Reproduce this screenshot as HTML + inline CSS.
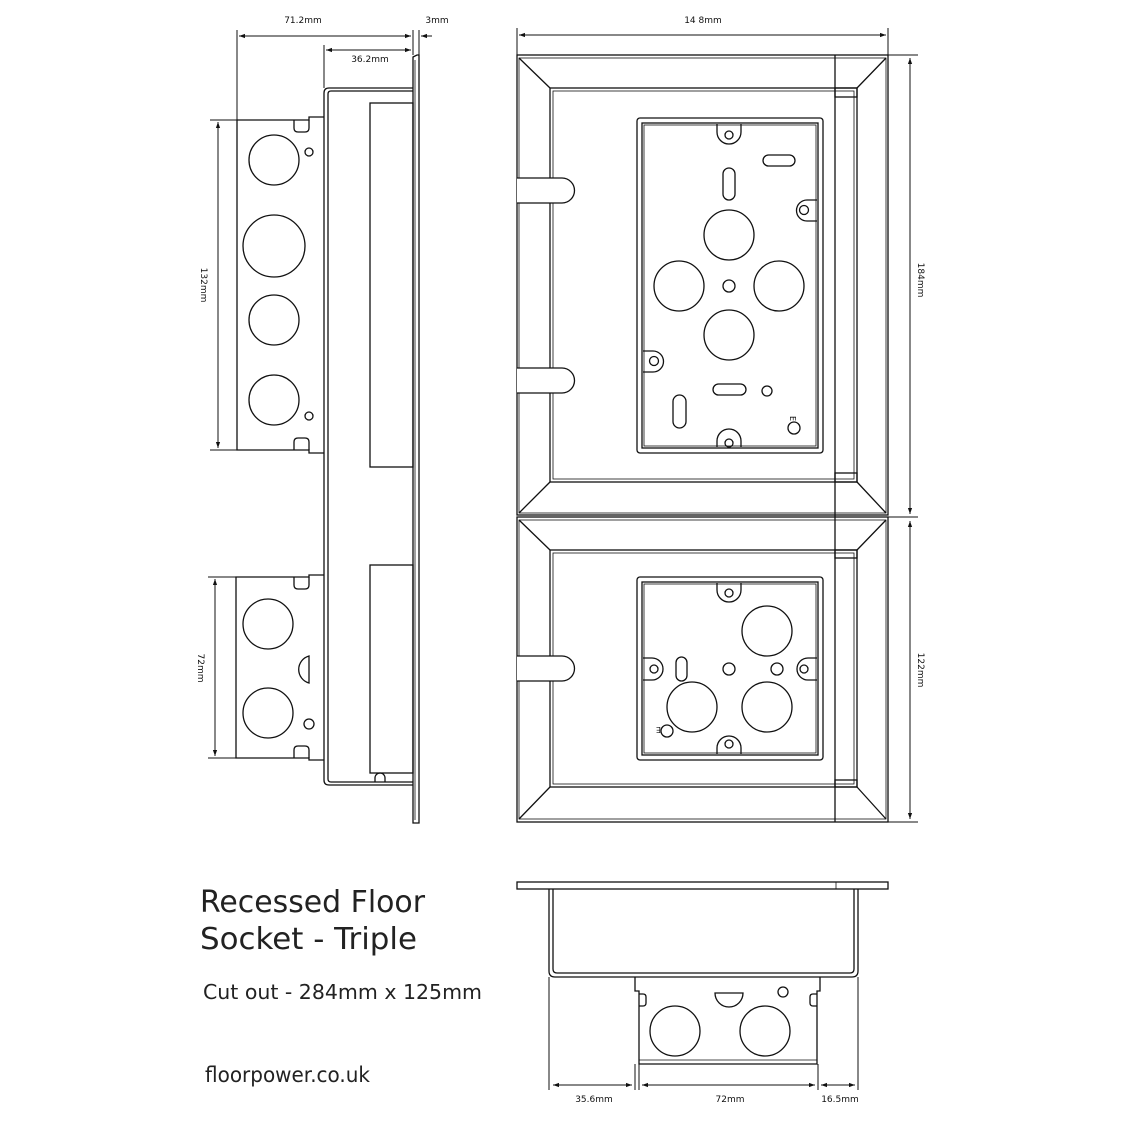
<!DOCTYPE html>
<html><head><meta charset="utf-8"><style>html,body{margin:0;padding:0;background:#fff}svg{display:block}</style></head>
<body>
<svg width="1132" height="1132" viewBox="0 0 1132 1132" xmlns="http://www.w3.org/2000/svg" font-family="'DejaVu Sans','Liberation Sans',sans-serif">
<defs>
<marker id="a" viewBox="0 0 10 10" refX="10" refY="5" markerWidth="8" markerHeight="6" orient="auto-start-reverse"><path d="M0,1.5 L10,5 L0,8.5z" fill="#111"/></marker>
</defs>
<g fill="none" stroke="#111" stroke-width="1.3">
<!-- ===== LEFT SIDE VIEW ===== -->
<!-- dims -->
<line x1="237" y1="30" x2="237" y2="120" stroke-width="1"/>
<line x1="324" y1="45" x2="324" y2="88" stroke-width="1"/>
<line x1="413" y1="30" x2="413" y2="55" stroke-width="1"/>
<line x1="419" y1="30" x2="419" y2="55" stroke-width="1"/>
<line x1="239" y1="36" x2="411" y2="36" stroke-width="1" marker-start="url(#a)" marker-end="url(#a)"/>
<line x1="326" y1="50" x2="411" y2="50" stroke-width="1" marker-start="url(#a)" marker-end="url(#a)"/>
<line x1="432" y1="36" x2="421" y2="36" stroke-width="1" marker-end="url(#a)"/>
<line x1="210" y1="120" x2="237" y2="120" stroke-width="1"/>
<line x1="210" y1="450" x2="237" y2="450" stroke-width="1"/>
<line x1="218" y1="122" x2="218" y2="448" stroke-width="1" marker-start="url(#a)" marker-end="url(#a)"/>
<line x1="208" y1="577" x2="236" y2="577" stroke-width="1"/>
<line x1="208" y1="758" x2="236" y2="758" stroke-width="1"/>
<line x1="215" y1="579" x2="215" y2="756" stroke-width="1" marker-start="url(#a)" marker-end="url(#a)"/>
<!-- flange -->
<path d="M413,57 L417,55 L419,55 L419,823 L413,823 Z"/>
<line x1="415" y1="60" x2="415" y2="820" stroke-width="0.8"/>
<!-- body -->
<path d="M413,88 L329,88 Q324,88 324,93 L324,780 Q324,785 329,785 L413,785"/>
<path d="M413,91 L331,91 Q328,91 328,94 L328,779 Q328,782 331,782 L413,782"/>
<rect x="370" y="103" width="43" height="364"/>
<rect x="370" y="565" width="43" height="208"/>
<path d="M375,782 L375,778 A5,5 0 0 1 385,778 L385,782"/>
<!-- upper bracket -->
<path d="M324,117 L309,117 L309,120 L237,120 L237,450 L309,450 L309,453 L324,453"/>
<path d="M294,120 L294,128 Q294,132 298,132 L305,132 Q309,132 309,128 L309,120"/>
<path d="M294,450 L294,442 Q294,438 298,438 L305,438 Q309,438 309,442 L309,450"/>
<circle cx="274" cy="160" r="25"/>
<circle cx="274" cy="246" r="31"/>
<circle cx="274" cy="320" r="25"/>
<circle cx="274" cy="400" r="25"/>
<circle cx="309" cy="152" r="4"/>
<circle cx="309" cy="416" r="4"/>
<!-- lower bracket -->
<path d="M324,575 L309,575 L309,577 L236,577 L236,758 L309,758 L309,760 L324,760"/>
<path d="M294,577 L294,585 Q294,589 298,589 L305,589 Q309,589 309,585 L309,577"/>
<path d="M294,758 L294,750 Q294,746 298,746 L305,746 Q309,746 309,750 L309,758"/>
<circle cx="268" cy="624" r="25"/>
<circle cx="268" cy="713" r="25"/>
<path d="M309,656 A14,14 0 0 0 309,683 Z"/>
<circle cx="309" cy="724" r="5"/>

<!-- ===== TOP VIEW ===== -->
<line x1="517" y1="28" x2="517" y2="55" stroke-width="1"/>
<line x1="888" y1="28" x2="888" y2="55" stroke-width="1"/>
<line x1="519" y1="35" x2="886" y2="35" stroke-width="1" marker-start="url(#a)" marker-end="url(#a)"/>
<line x1="888" y1="55" x2="918" y2="55" stroke-width="1"/>
<line x1="888" y1="517" x2="918" y2="517" stroke-width="1"/>
<line x1="888" y1="822" x2="918" y2="822" stroke-width="1"/>
<line x1="910" y1="58" x2="910" y2="514" stroke-width="1" marker-start="url(#a)" marker-end="url(#a)"/>
<line x1="910" y1="521" x2="910" y2="819" stroke-width="1" marker-start="url(#a)" marker-end="url(#a)"/>
<!-- top box -->
<rect x="517" y="55" width="371" height="460"/>
<rect x="519" y="58" width="367" height="455" stroke-width="0.8"/>
<rect x="550" y="88" width="307" height="394"/>
<rect x="553" y="91" width="301" height="388" stroke-width="0.8"/>
<line x1="519" y1="58" x2="550" y2="88"/><line x1="886" y1="58" x2="857" y2="88"/>
<line x1="519" y1="513" x2="550" y2="482"/><line x1="886" y1="513" x2="857" y2="482"/>
<line x1="835" y1="55" x2="835" y2="822"/>
<rect x="835" y="88" width="22" height="9"/><rect x="835" y="473" width="22" height="9"/>
<!-- notches -->
<path d="M517,178 L562,178 A12.5,12.5 0 0 1 562,203 L517,203" fill="#fff"/>
<path d="M517,368 L562,368 A12.5,12.5 0 0 1 562,393 L517,393" fill="#fff"/>
<!-- bottom box -->
<rect x="517" y="517" width="371" height="305"/>
<rect x="519" y="520" width="367" height="299" stroke-width="0.8"/>
<rect x="550" y="550" width="307" height="237"/>
<rect x="553" y="553" width="301" height="231" stroke-width="0.8"/>
<line x1="519" y1="520" x2="550" y2="550"/><line x1="886" y1="520" x2="857" y2="550"/>
<line x1="519" y1="819" x2="550" y2="787"/><line x1="886" y1="819" x2="857" y2="787"/>
<rect x="835" y="550" width="22" height="8"/><rect x="835" y="780" width="22" height="7"/>
<path d="M517,656 L562,656 A12.5,12.5 0 0 1 562,681 L517,681" fill="#fff"/>
<!-- top socket -->
<rect x="637" y="118" width="186" height="335" rx="3"/>
<rect x="642" y="123" width="176" height="325"/>
<rect x="644" y="125" width="172" height="321" stroke-width="0.8"/>
<path d="M717,124 L717,132 A12,12 0 0 0 741,132 L741,124"/>
<circle cx="729" cy="135" r="4"/>
<path d="M717,447 L717,441 A12,12 0 0 1 741,441 L741,447"/>
<circle cx="729" cy="443" r="4"/>
<path d="M817,200 L807,200 A10,10 0 0 0 807,221 L817,221"/><circle cx="804" cy="210" r="4.5"/>
<path d="M643,351 L653,351 A10,10 0 0 1 653,372 L643,372"/><circle cx="654" cy="361" r="4.5"/>
<rect x="763" y="155" width="32" height="11" rx="5.5"/>
<rect x="723" y="168" width="12" height="32" rx="6"/>
<rect x="713" y="384" width="33" height="11" rx="5.5"/>
<rect x="673" y="395" width="13" height="33" rx="6.5"/>
<circle cx="729" cy="235" r="25"/>
<circle cx="679" cy="286" r="25"/>
<circle cx="779" cy="286" r="25"/>
<circle cx="729" cy="335" r="25"/>
<circle cx="729" cy="286" r="6"/>
<circle cx="767" cy="391" r="5"/>
<circle cx="794" cy="428" r="6"/>
<!-- bottom socket -->
<rect x="637" y="577" width="186" height="183" rx="3"/>
<rect x="642" y="582" width="176" height="173"/>
<rect x="644" y="584" width="172" height="169" stroke-width="0.8"/>
<path d="M717,583 L717,590 A12,12 0 0 0 741,590 L741,583"/><circle cx="729" cy="593" r="4"/>
<path d="M717,754 L717,748 A12,12 0 0 1 741,748 L741,754"/><circle cx="729" cy="744" r="4"/>
<path d="M643,658 L652,658 A11,11 0 0 1 652,680 L643,680"/><circle cx="654" cy="669" r="4"/>
<path d="M817,658 L808,658 A11,11 0 0 0 808,680 L817,680"/><circle cx="804" cy="669" r="4"/>
<rect x="676" y="657" width="11" height="24" rx="5.5"/>
<circle cx="767" cy="631" r="25"/>
<circle cx="692" cy="707" r="25"/>
<circle cx="767" cy="707" r="25"/>
<circle cx="729" cy="669" r="6"/>
<circle cx="777" cy="669" r="6"/>
<circle cx="667" cy="731" r="6"/>

<!-- ===== BOTTOM VIEW ===== -->
<rect x="517" y="882" width="371" height="7"/>
<line x1="836" y1="882" x2="836" y2="889" stroke-width="0.8"/>
<path d="M549,889 L549,971 Q549,977 555,977 L852,977 Q858,977 858,971 L858,889"/>
<path d="M553,889 L553,969 Q553,973 557,973 L850,973 Q854,973 854,969 L854,889"/>
<path d="M635,977 L635,991 L639,991 L639,1064 L817,1064 L817,991 L820,991 L820,977"/>
<line x1="639" y1="1060" x2="817" y2="1060" stroke-width="0.8"/>
<path d="M639,994 L643,994 Q646,994 646,997 L646,1003 Q646,1006 643,1006 L639,1006"/>
<path d="M817,994 L813,994 Q810,994 810,997 L810,1003 Q810,1006 813,1006 L817,1006"/>
<circle cx="675" cy="1031" r="25"/>
<circle cx="765" cy="1031" r="25"/>
<path d="M715,993 L743,993 A14,14 0 0 1 715,993 Z"/>
<circle cx="783" cy="992" r="5"/>
<line x1="549" y1="977" x2="549" y2="1090" stroke-width="1"/>
<line x1="635" y1="1064" x2="635" y2="1090" stroke-width="1"/>
<line x1="639" y1="1064" x2="639" y2="1090" stroke-width="1"/>
<line x1="818" y1="1064" x2="818" y2="1090" stroke-width="1"/>
<line x1="858" y1="977" x2="858" y2="1090" stroke-width="1"/>
<line x1="553" y1="1085" x2="632" y2="1085" stroke-width="1" marker-start="url(#a)" marker-end="url(#a)"/>
<line x1="642" y1="1085" x2="815" y2="1085" stroke-width="1" marker-start="url(#a)" marker-end="url(#a)"/>
<line x1="821" y1="1085" x2="855" y2="1085" stroke-width="1" marker-start="url(#a)" marker-end="url(#a)"/>
</g>
<g fill="#111" font-size="9">
<text x="303" y="23" text-anchor="middle">71.2mm</text>
<text x="437" y="23" text-anchor="middle">3mm</text>
<text x="370" y="62" text-anchor="middle">36.2mm</text>
<text x="703" y="23" text-anchor="middle">14 8mm</text>
<text transform="translate(201,285) rotate(90)" text-anchor="middle">132mm</text>
<text transform="translate(198,668) rotate(90)" text-anchor="middle">72mm</text>
<text transform="translate(918,280) rotate(90)" text-anchor="middle">184mm</text>
<text transform="translate(918,670) rotate(90)" text-anchor="middle">122mm</text>
<text x="594" y="1102" text-anchor="middle">35.6mm</text>
<text x="730" y="1102" text-anchor="middle">72mm</text>
<text x="840" y="1102" text-anchor="middle">16.5mm</text>
<text transform="translate(790,416) rotate(90)" font-size="8">E</text>
<text transform="translate(661,727) rotate(180)" font-size="8">E</text>
</g>
<g fill="#222">
<text x="200" y="912" font-size="30" textLength="225" lengthAdjust="spacingAndGlyphs">Recessed Floor</text>
<text x="200" y="949" font-size="30" textLength="217" lengthAdjust="spacingAndGlyphs">Socket - Triple</text>
<text x="203" y="999" font-size="20" textLength="279" lengthAdjust="spacingAndGlyphs">Cut out - 284mm x 125mm</text>
<text x="205" y="1082" font-size="21" textLength="165" lengthAdjust="spacingAndGlyphs">floorpower.co.uk</text>
</g>
</svg>
</body></html>
